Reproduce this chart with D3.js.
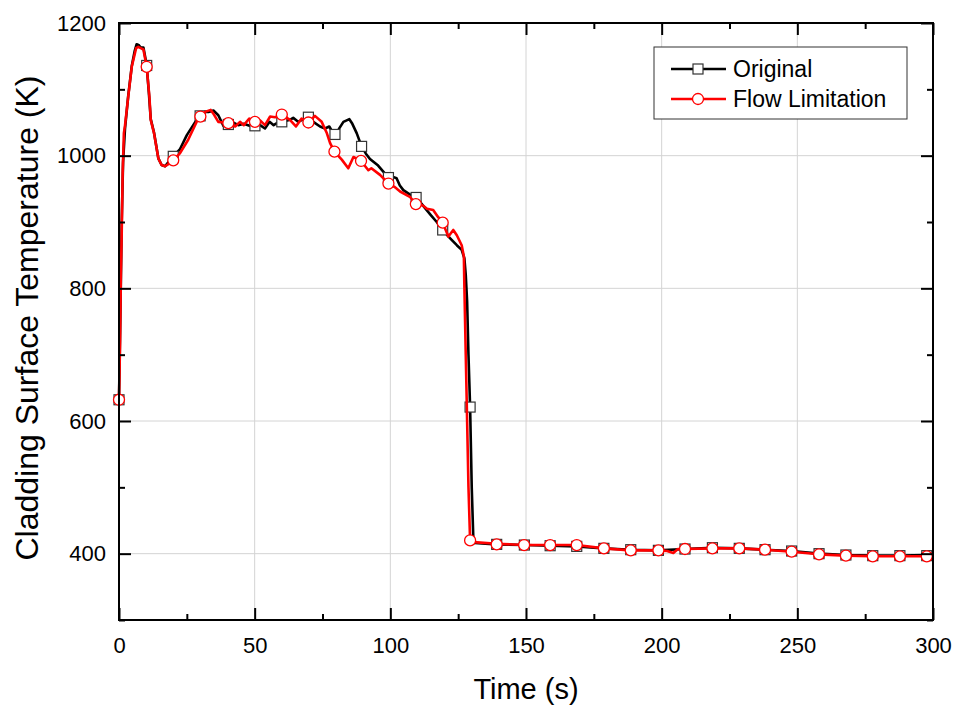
<!DOCTYPE html>
<html>
<head>
<meta charset="utf-8">
<script src="https://cdn.jsdelivr.net/npm/d3@7"></script>
<style>
  html, body { margin: 0; padding: 0; background: #fff; }
  svg { display: block; font-family: "Liberation Sans", Arial, sans-serif; }
</style>
</head>
<body>
<svg id="chart" width="954" height="706"></svg>
<script>
// ---- data ----
const xTicks = [0, 50, 100, 150, 200, 250, 300];
const yTicks = [400, 600, 800, 1000, 1200];
const xMinor = [25, 75, 125, 175, 225, 275];
const yMinor = [300, 500, 700, 900, 1100];

const seriesNames = ["Original", "Flow Limitation"];

const origT = [0, 0.5, 1.0, 1.5, 2.2, 3.4, 4.7, 5.8, 6.5, 7.2, 8, 9, 9.6, 10.2, 11.0, 11.7, 12.9, 14.5, 15.7, 17, 18.5, 20, 22.5, 25, 28.6, 30, 31.7, 33, 34.8, 36.6, 38.5, 40.3, 42, 44, 46, 48.9, 50.1, 52, 53.8, 55.5, 57, 58.5, 60, 62, 63, 64.2, 66, 67.5, 69.8, 71.6, 74.1, 75.9, 77.5, 78.5, 79.6, 81, 82.7, 84.9, 86, 87.6, 89.4, 91, 92.5, 94, 95.5, 97.4, 99.3, 101, 102.3, 103.5, 104.8, 107, 109.5, 111, 112.8, 115, 117.1, 119.3, 121, 122.6, 124.5, 126.3, 127.3, 127.8, 128.3, 128.8, 129.4, 130, 130.6, 131.2, 135, 139.2, 149.4, 158.9, 168.7, 178.7, 188.6, 198.8, 208.6, 218.7, 228.6, 238.1, 247.9, 258, 267.9, 277.8, 287.8, 297.7, 300];
const origV = [632, 760, 900, 990, 1040, 1090, 1135, 1158, 1168, 1167, 1163, 1163, 1150, 1136, 1095, 1055, 1035, 996, 986, 984, 992, 999, 1010, 1031, 1054, 1061, 1066, 1066, 1068, 1061, 1045, 1047, 1050, 1046, 1048, 1044, 1045, 1046, 1041, 1051, 1046, 1050, 1051, 1053, 1054, 1057, 1051, 1054, 1058, 1051, 1044, 1041, 1044, 1037, 1032, 1040, 1051, 1055, 1048, 1034, 1014, 1003, 995, 990, 985, 976, 967, 968, 966, 955, 948, 942, 937, 930, 921, 910, 900, 888, 880, 873, 865, 858, 845, 820, 780, 700, 621, 500, 421, 416, 415, 414, 413, 412, 411, 408, 406, 405, 407, 409, 408, 406, 404, 400, 398, 397, 397, 398, 398];

const flowT = [0, 0.4, 0.7, 1.0, 1.35, 1.8, 2.2, 3.4, 4.7, 6.3, 7.1, 8, 9, 10.2, 11.2, 11.7, 12.9, 14.5, 15.7, 17, 18.5, 20, 22.5, 25.5, 28.6, 30, 31.7, 33.8, 35, 36.6, 38.5, 40.3, 42.8, 44.6, 46, 48, 50.1, 52, 53.8, 55.7, 57.5, 60, 63, 65.2, 67.3, 69.8, 72.2, 74.7, 76.5, 77.8, 79.4, 82.1, 84.5, 86.4, 89.2, 91.9, 93, 96.2, 99.3, 101.5, 103.6, 107.2, 109.4, 112, 113.5, 115.8, 117.5, 119.3, 121.4, 123.2, 124.5, 126.3, 127.1, 127.3, 127.8, 128.3, 128.8, 129.4, 132, 139.2, 149.3, 158.9, 168.7, 178.7, 188.6, 198.8, 202, 204.3, 206, 208.6, 218.7, 228.6, 238.1, 247.9, 258, 267.9, 277.8, 287.8, 297.7, 300];
const flowV = [632, 720, 820, 883, 973, 1034, 1045, 1089, 1134, 1162, 1164, 1162, 1160, 1134, 1089, 1054, 1034, 996, 986, 984, 988, 993, 1004, 1024, 1051, 1059, 1066, 1069, 1062, 1051, 1050, 1049, 1044, 1051, 1046, 1056, 1051, 1053, 1046, 1059, 1058, 1062, 1054, 1044, 1056, 1050, 1060, 1051, 1035, 1019, 1006, 994, 981, 998, 992, 978, 981, 971, 958, 953, 946, 938, 927, 925, 920, 918, 908, 899, 878, 888, 880, 865, 848, 800, 700, 600, 500, 420, 417, 415, 413, 413, 413, 408, 405, 405, 404, 401, 407, 407, 408, 408, 406, 403, 399, 397, 396, 396, 396, 397];

const origMarkT = [0, 10.2, 20, 29.9, 40.3, 50.1, 60, 69.8, 79.6, 89.4, 99.3, 109.5, 119.3, 129.4, 139.2, 149.4, 158.9, 168.7, 178.7, 188.6, 198.8, 208.6, 218.7, 228.6, 238.1, 247.9, 258, 267.9, 277.8, 287.8, 297.7];
const origMarkV = [632, 1136, 999, 1060, 1047, 1045, 1051, 1058, 1032, 1014, 967, 937, 888, 621, 414, 413, 412, 411, 408, 406, 405, 407, 409, 408, 406, 404, 400, 398, 397, 397, 397];

const flowMarkT = [0, 10.2, 20, 30, 40.3, 50.1, 60, 69.8, 79.4, 89.2, 99.3, 109.4, 119.3, 129.4, 139.2, 149.3, 158.9, 168.7, 178.7, 188.6, 198.8, 208.6, 218.7, 228.6, 238.1, 247.9, 258, 267.9, 277.8, 287.8, 297.7];
const flowMarkV = [632, 1134, 993, 1059, 1049, 1051, 1062, 1050, 1006, 992, 958, 927, 899, 420, 414, 413, 413, 413, 408, 405, 405, 407, 408, 408, 406, 403, 399, 397, 396, 396, 396];

// ---- layout ----
const L = 119, R = 933, T = 23, B = 620;
const svg = d3.select("#chart");
const x = d3.scaleLinear().domain([0, 300]).range([L, R]);
const y = d3.scaleLinear().domain([300, 1200]).range([B, T]);

// grid
const grid = svg.append("g").attr("stroke", "#d4d4d4").attr("stroke-width", 1);
grid.selectAll("line.gx").data(xTicks.slice(1, -1)).join("line")
  .attr("x1", d => x(d)).attr("x2", d => x(d)).attr("y1", T).attr("y2", B);
grid.selectAll("line.gy").data(yTicks.slice(0, -1)).join("line")
  .attr("x1", L).attr("x2", R).attr("y1", d => y(d)).attr("y2", d => y(d));

// series
const zip = (a, b) => a.map((d, i) => [d, b[i]]);
const line = d3.line().x(d => x(d[0])).y(d => y(d[1]));
const origPts = zip(origT, origV), flowPts = zip(flowT, flowV);
const origMk = zip(origMarkT, origMarkV), flowMk = zip(flowMarkT, flowMarkV);

const plot = svg.append("g");
plot.append("path").datum(origPts).attr("d", line)
  .attr("fill", "none").attr("stroke", "#000").attr("stroke-width", 2.6).attr("stroke-linejoin", "round");
plot.selectAll("rect.om").data(origMk).join("rect").attr("class", "om")
  .attr("x", d => x(d[0]) - 5).attr("y", d => y(d[1]) - 5)
  .attr("width", 10).attr("height", 10)
  .attr("fill", "#fff").attr("stroke", "#333").attr("stroke-width", 1.2);
plot.append("path").datum(flowPts).attr("d", line)
  .attr("fill", "none").attr("stroke", "#ff0000").attr("stroke-width", 2.6).attr("stroke-linejoin", "round");
plot.selectAll("circle.fm").data(flowMk).join("circle").attr("class", "fm")
  .attr("cx", d => x(d[0])).attr("cy", d => y(d[1])).attr("r", 5.5)
  .attr("fill", "#fff").attr("stroke", "#ff0000").attr("stroke-width", 1.3);

// axes
const fs = 22;
function styleAxis(g) {
  g.select(".domain").remove();
  g.selectAll(".tick line").attr("stroke", "#000").attr("stroke-width", 2);
  g.selectAll(".tick text").attr("fill", "#000").attr("font-size", fs)
    .attr("font-family", "'Liberation Sans', Arial, sans-serif");
}
const axB = svg.append("g").attr("transform", `translate(0,${B})`)
  .call(d3.axisBottom(x).tickValues(xTicks).tickSizeInner(-12).tickSizeOuter(0).tickPadding(17).tickFormat(d3.format("d")));
styleAxis(axB);
svg.append("g").attr("transform", `translate(0,${B})`)
  .call(d3.axisBottom(x).tickValues(xMinor).tickSizeInner(-6).tickSizeOuter(0).tickFormat("")).call(styleAxis);
svg.append("g").attr("transform", `translate(0,${T})`)
  .call(d3.axisTop(x).tickValues(xTicks).tickSizeInner(-12).tickSizeOuter(0).tickFormat("")).call(styleAxis);
svg.append("g").attr("transform", `translate(0,${T})`)
  .call(d3.axisTop(x).tickValues(xMinor).tickSizeInner(-6).tickSizeOuter(0).tickFormat("")).call(styleAxis);
const axL = svg.append("g").attr("transform", `translate(${L},0)`)
  .call(d3.axisLeft(y).tickValues(yTicks).tickSizeInner(-12).tickSizeOuter(0).tickPadding(13).tickFormat(d3.format("d")));
styleAxis(axL);
svg.append("g").attr("transform", `translate(${L},0)`)
  .call(d3.axisLeft(y).tickValues(yMinor).tickSizeInner(-6).tickSizeOuter(0).tickFormat("")).call(styleAxis);
svg.append("g").attr("transform", `translate(${R},0)`)
  .call(d3.axisRight(y).tickValues(yTicks).tickSizeInner(-12).tickSizeOuter(0).tickFormat("")).call(styleAxis);
svg.append("g").attr("transform", `translate(${R},0)`)
  .call(d3.axisRight(y).tickValues(yMinor).tickSizeInner(-6).tickSizeOuter(0).tickFormat("")).call(styleAxis);

// frame
svg.append("rect").attr("x", L).attr("y", T).attr("width", R - L).attr("height", B - T)
  .attr("fill", "none").attr("stroke", "#000").attr("stroke-width", 2);

// axis titles
svg.append("text").attr("x", (L + R) / 2).attr("y", 699)
  .attr("text-anchor", "middle").attr("font-size", 29).attr("fill", "#000").text("Time (s)");
svg.append("text").attr("transform", `translate(38,318) rotate(-90)`)
  .attr("text-anchor", "middle").attr("font-size", 32).attr("fill", "#000").text("Cladding Surface Temperature (K)");

// legend
const lg = svg.append("g");
lg.append("rect").attr("x", 654).attr("y", 47).attr("width", 253).attr("height", 72)
  .attr("fill", "#fff").attr("stroke", "#333").attr("stroke-width", 1);
const rows = [
  { name: seriesNames[0], color: "#000", y: 69, shape: "rect", mstroke: "#333" },
  { name: seriesNames[1], color: "#ff0000", y: 99, shape: "circle", mstroke: "#ff0000" }
];
rows.forEach(r => {
  lg.append("line").attr("x1", 671).attr("x2", 726).attr("y1", r.y).attr("y2", r.y)
    .attr("stroke", r.color).attr("stroke-width", 2.6);
  if (r.shape === "rect") {
    lg.append("rect").attr("x", 698 - 5).attr("y", r.y - 5).attr("width", 10).attr("height", 10)
      .attr("fill", "#fff").attr("stroke", r.mstroke).attr("stroke-width", 1.2);
  } else {
    lg.append("circle").attr("cx", 698).attr("cy", r.y).attr("r", 5.5)
      .attr("fill", "#fff").attr("stroke", r.mstroke).attr("stroke-width", 1.3);
  }
  lg.append("text").attr("x", 733).attr("y", r.y).attr("dy", "0.35em")
    .attr("font-size", 23).attr("fill", "#000").text(r.name);
});
</script>
</body>
</html>
